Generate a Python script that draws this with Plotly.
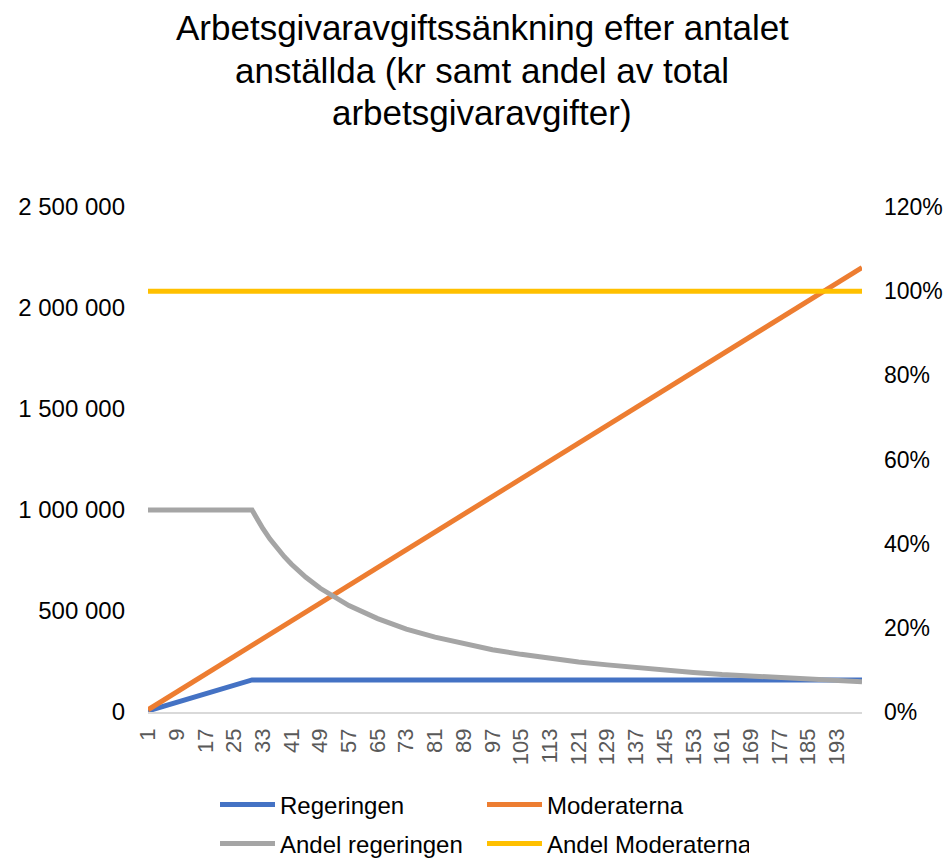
import plotly.graph_objects as go

# ---- data ----
title_lines = ["Arbetsgivaravgiftssänkning efter antalet",
               "anställda (kr samt andel av total",
               "arbetsgivaravgifter)"]

tick_labels = ["1", "9", "17", "25", "33", "41", "49", "57", "65", "73", "81", "89", "97",
               "105", "113", "121", "129", "137", "145", "153", "161", "169", "177", "185", "193"]

reg_x = [1, 30, 200]
reg_y = [5300, 159000, 159000]

mod_x = [1, 200]
mod_y = [11000, 2200000]

andel_reg_x = [1, 30, 31, 32, 33, 35, 37, 39, 41, 45, 49, 53, 57, 65, 73, 81, 89, 97, 105, 113,
               121, 129, 137, 145, 153, 161, 169, 177, 185, 193, 200]
andel_reg_y = [0.48, 0.48, 0.465, 0.45, 0.436, 0.411, 0.389, 0.369, 0.351, 0.32, 0.294, 0.272,
               0.253, 0.222, 0.197, 0.178, 0.162, 0.148, 0.137, 0.127, 0.119, 0.112, 0.105,
               0.099, 0.094, 0.089, 0.085, 0.081, 0.078, 0.075, 0.072]

andel_mod_x = [1, 200]
andel_mod_y = [1.0, 1.0]

left_ticks = [0, 500000, 1000000, 1500000, 2000000, 2500000]
left_tick_text = ["0", "500 000", "1 000 000", "1 500 000", "2 000 000", "2 500 000"]
right_ticks = [0, 0.2, 0.4, 0.6, 0.8, 1.0, 1.2]
right_tick_text = ["0%", "20%", "40%", "60%", "80%", "100%", "120%"]

FONT = "Liberation Sans, Arial, sans-serif"
LW = 5
W, H = 947, 861

fig = go.Figure()
fig.add_trace(go.Scatter(x=reg_x, y=reg_y, mode="lines", name="Regeringen",
                         line=dict(color="#4472C4", width=LW), legend="legend"))
fig.add_trace(go.Scatter(x=mod_x, y=mod_y, mode="lines", name="Moderaterna",
                         line=dict(color="#ED7D31", width=LW), legend="legend"))
fig.add_trace(go.Scatter(x=andel_reg_x, y=andel_reg_y, mode="lines", name="Andel regeringen",
                         line=dict(color="#A5A5A5", width=LW), yaxis="y2", legend="legend2"))
fig.add_trace(go.Scatter(x=andel_mod_x, y=andel_mod_y, mode="lines", name="Andel Moderaterna",
                         line=dict(color="#FFC000", width=LW), yaxis="y2", legend="legend2"))

# plot area in page pixels (body margin removed below)
PL, PR, PT, PB = 148, 862, 207, 712
PW, PH = PR - PL, PB - PT


def py(y):
    return (PB - y) / PH


def px(x):
    return (x - PL) / PW


title_y = [28, 70, 112]
annotations = [dict(text=t, x=px(482), y=py(yy), xref="paper", yref="paper",
                    xanchor="center", yanchor="middle", showarrow=False,
                    font=dict(family=FONT, size=35, color="black"))
               for t, yy in zip(title_lines, title_y)]

legend_common = dict(orientation="h", xanchor="left", yanchor="middle",
                     entrywidth=197, entrywidthmode="pixels", itemwidth=55,
                     font=dict(family=FONT, size=24, color="black"),
                     bgcolor="rgba(0,0,0,0)", traceorder="normal")

fig.update_layout(
    width=W, height=H,
    paper_bgcolor="white", plot_bgcolor="white",
    font=dict(family=FONT, size=24, color="black"),
    margin=dict(l=PL, r=W - PR, t=PT, b=H - PB, autoexpand=False),
    annotations=annotations,
    xaxis=dict(range=[1, 200], tickmode="array",
               tickvals=[int(t) for t in tick_labels], ticktext=tick_labels,
               tickangle=-90, showgrid=False, zeroline=False,
               showline=True, linecolor="#D9D9D9", linewidth=1.5,
               tickfont=dict(color="#595959", size=22), ticks="", ticklen=0,
               ticklabelstandoff=6),
    yaxis=dict(range=[0, 2500000], tickmode="array", tickvals=left_ticks,
               ticktext=left_tick_text, showgrid=False, zeroline=False,
               showline=False, ticks="", ticklabelstandoff=22),
    yaxis2=dict(range=[0, 1.2], tickmode="array", tickvals=right_ticks,
                ticktext=right_tick_text, overlaying="y", side="right",
                showgrid=False, zeroline=False, showline=False, ticks="",
                tickfont=dict(size=23), ticklabelstandoff=21),
    showlegend=True,
    legend=dict(x=px(215), y=py(805), **legend_common),
    legend2=dict(x=px(215), y=py(844), **legend_common),
)

fig.write_html("out.html",
               config={"displayModeBar": False},
               post_script=["document.body.style.margin='0px';"
                            "document.body.style.overflow='hidden';"])
